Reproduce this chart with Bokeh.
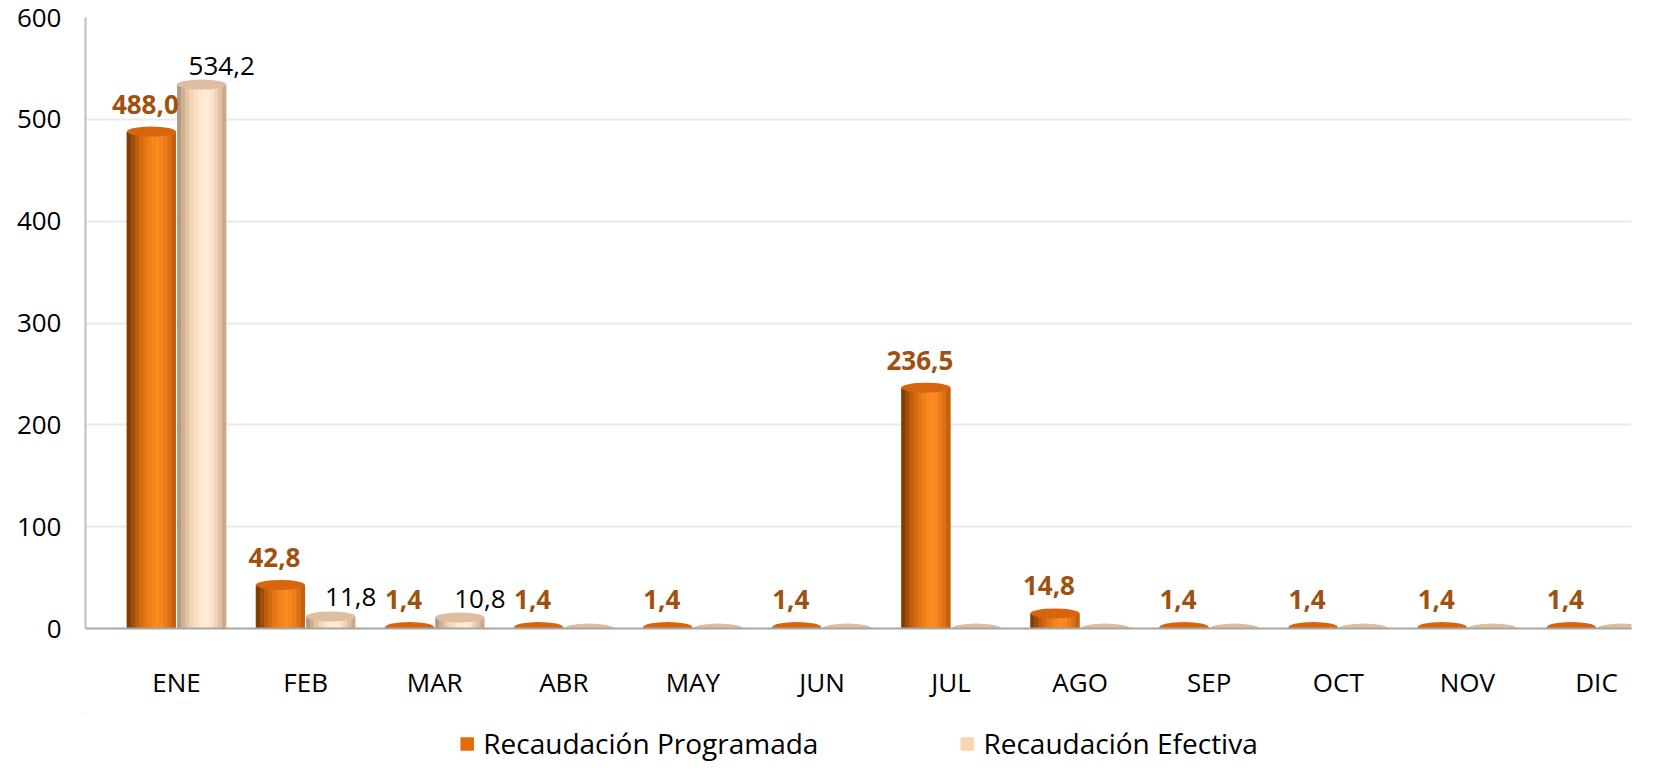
from bokeh.plotting import figure
from bokeh.layouts import column
from bokeh.models import ColumnDataSource, Range1d, FixedTicker, LabelSet, Legend, LegendItem
from bokeh.transform import dodge
from bokeh.core.properties import value
from bokeh.embed import file_html
from bokeh.resources import INLINE

# ---------------- data ----------------
months = ["ENE", "FEB", "MAR", "ABR", "MAY", "JUN", "JUL", "AGO", "SEP", "OCT", "NOV", "DIC"]
programada = [488.0, 42.8, 1.4, 1.4, 1.4, 1.4, 236.5, 14.8, 1.4, 1.4, 1.4, 1.4]
efectiva = [534.2, 11.8, 10.8, 0, 0, 0, 0, 0, 0, 0, 0, 0]
y_ticks = [0, 100, 200, 300, 400, 500, 600]
series_names = ["Recaudación Programada", "Recaudación Efectiva"]
series_colors = ["#E46C0A", "#FBD4B4"]


def fmt(v):
    return f"{v:.1f}".replace(".", ",")


idx = list(range(len(months)))
src = ColumnDataSource(dict(idx=idx, prog=programada, efec=efectiva))
lbl_prog = ColumnDataSource(dict(idx=idx, y=programada, t=[fmt(v) for v in programada]))
ef_idx = [i for i, v in zip(idx, efectiva) if v > 0]
lbl_efec = ColumnDataSource(dict(idx=ef_idx, y=[efectiva[i] for i in ef_idx],
                                 t=[fmt(efectiva[i]) for i in ef_idx]))

# ---------------- style ----------------
FONT = "Open Sans"
BAR_W = 0.38
OFF = 0.195
N_STRIPS = 12
orange_grad = ["#7E3C07", "#9E4D0A", "#BC5E0D", "#D26B10", "#E37614", "#EF7F18",
               "#F8871D", "#FC8B21", "#F78620", "#EC7D1A", "#DB7015", "#C26210"]
peach_grad = ["#B59880", "#CFAF91", "#E3C4A5", "#F1D4B6", "#F9DEC3", "#FDE6CE",
              "#FFEAD5", "#FFECD8", "#FBE2CA", "#F1D3B7", "#E2C1A2", "#CBAA8C"]

p = figure(width=1647, height=712,
           x_range=Range1d(-0.705, 11.271), y_range=Range1d(0, 600),
           output_backend="svg", toolbar_location=None,
           min_border_left=85, min_border_right=16,
           min_border_top=17, min_border_bottom=84)
p.outline_line_color = None
p.background_fill_color = "white"

# grid
p.xgrid.grid_line_color = None
p.ygrid.ticker = FixedTicker(ticks=y_ticks)
p.ygrid.grid_line_color = "#E9E9E9"
p.ygrid.grid_line_width = 2

# axes
p.yaxis.ticker = FixedTicker(ticks=y_ticks)
p.xaxis.ticker = FixedTicker(ticks=idx)
p.xaxis.major_label_overrides = {i: m for i, m in enumerate(months)}
for ax in (p.xaxis, p.yaxis):
    ax.major_tick_line_color = None
    ax.minor_tick_line_color = None
    ax.major_tick_out = 0
    ax.major_label_text_font = FONT
    ax.major_label_text_font_size = "26px"
    ax.major_label_text_color = "#000000"
p.yaxis.axis_line_color = "#BFBFBF"
p.yaxis.axis_line_width = 2
p.yaxis.major_label_standoff = 24
p.xaxis.axis_line_color = "#A6A6A6"
p.xaxis.axis_line_width = 2
p.xaxis.major_label_standoff = 35

# ---------------- bars (cylinders) ----------------
p.vbar(x=dodge("idx", -OFF), top="prog", width=BAR_W, source=src,
       fill_color=series_colors[0], line_color=None)
p.vbar(x=dodge("idx", OFF), top="efec", width=BAR_W, source=src,
       fill_color=series_colors[1], line_color=None)
sw = BAR_W / N_STRIPS
for k in range(N_STRIPS):
    d = -BAR_W / 2 + (k + 0.5) * sw
    p.vbar(x=dodge("idx", -OFF + d), top="prog", width=sw * 1.05, source=src,
           fill_color=orange_grad[k], line_color=None)
    p.vbar(x=dodge("idx", OFF + d), top="efec", width=sw * 1.05, source=src,
           fill_color=peach_grad[k], line_color=None)

# caps
p.ellipse(x=dodge("idx", -OFF), y="prog", width=BAR_W, height=10, height_units="screen",
          source=src, fill_color="#D8640D", line_color=None)
p.ellipse(x=dodge("idx", OFF), y="efec", width=BAR_W, height=10, height_units="screen",
          source=src, fill_color="#DDBEA0", line_color=None)

# ---------------- labels ----------------
p.add_layout(LabelSet(x=dodge("idx", -OFF), y="y", text="t", source=lbl_prog,
                      x_offset=-6, y_offset=18, text_align="center", text_baseline="bottom",
                      text_font=value(FONT), text_font_size=value("26px"),
                      text_font_style=value("bold"), text_color=value("#A0500F")))
p.add_layout(LabelSet(x=dodge("idx", OFF), y="y", text="t", source=lbl_efec,
                      x_offset=20, y_offset=10, text_align="center", text_baseline="bottom",
                      text_font=value(FONT), text_font_size=value("26px"),
                      text_color=value("#000000")))

# ---------------- legend (separate strip below the chart) ----------------
# the key renderers use the same series, but lie outside this strip's visible ranges
pl = figure(width=1647, height=50, x_range=Range1d(100, 101), y_range=Range1d(-2, -1),
            output_backend="svg", toolbar_location=None,
            min_border_left=85, min_border_right=16, min_border_top=0, min_border_bottom=0)
pl.axis.visible = False
pl.grid.grid_line_color = None
pl.outline_line_color = None
r1 = pl.vbar(x="idx", top="prog", width=BAR_W, source=src,
             fill_color=series_colors[0], line_color=None)
r2 = pl.vbar(x="idx", top="efec", width=BAR_W, source=src,
             fill_color=series_colors[1], line_color=None)
legend = Legend(items=[LegendItem(label=series_names[0], renderers=[r1]),
                       LegendItem(label=series_names[1], renderers=[r2])],
                orientation="horizontal", location="bottom_center",
                spacing=140, label_standoff=8, glyph_width=17, glyph_height=17,
                label_text_font=FONT, label_text_font_size="28px",
                label_text_color="#000000",
                border_line_color=None, background_fill_alpha=0,
                margin=0, padding=1)
pl.add_layout(legend)

layout = column(p, pl, spacing=0)
open("out.html", "w").write(file_html(layout, INLINE))
